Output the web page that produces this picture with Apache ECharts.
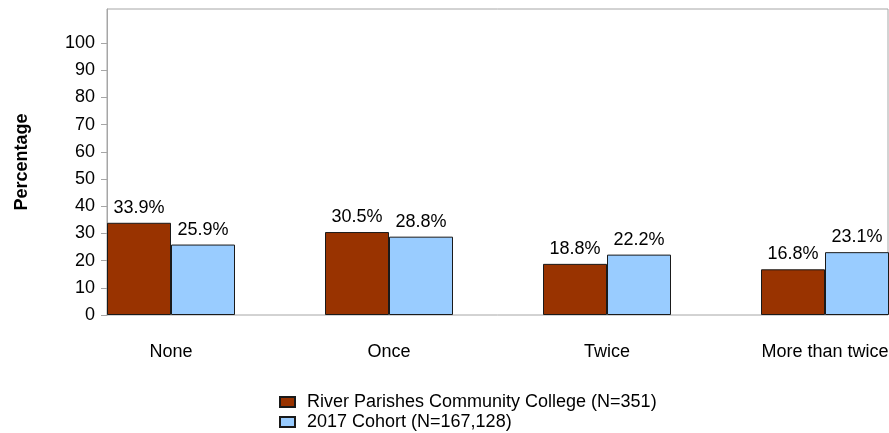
<!DOCTYPE html>
<html>
<head>
<meta charset="utf-8">
<script src="https://cdn.jsdelivr.net/npm/echarts@6/dist/echarts.min.js"></script>
<style>html,body{margin:0;padding:0;background:#fff}#c{width:889px;height:433px}</style>
</head>
<body>
<div id="c"></div>
<script>
const categories = ['None', 'Once', 'Twice', 'More than twice'];
const collegeName = 'River Parishes Community College (N=351)';
const cohortName = '2017 Cohort (N=167,128)';
const collegeValues = [33.9, 30.5, 18.8, 16.8];
const cohortValues = [25.9, 28.8, 22.2, 23.1];
const yTicks = [0, 10, 20, 30, 40, 50, 60, 70, 80, 90, 100];

const FONT = '"Liberation Sans", Arial, sans-serif';
const FS = 18;
const chart = echarts.init(document.getElementById('c'), null, {renderer: 'canvas'});

const labelCfg = {
  show: true, position: 'top', distance: 6,
  formatter: p => p.value.toFixed(1) + '%',
  color: '#000', fontFamily: FONT, fontSize: FS
};

chart.setOption({
  animation: false,
  backgroundColor: '#fff',
  textStyle: {fontFamily: FONT},
  grid: [
    {left: 107, right: 1, top: 9, bottom: 118, show: true, borderColor: '#a6a6a6', borderWidth: 1,
      backgroundColor: 'transparent', outerBoundsMode: 'none', containLabel: false},
    {left: 62, width: 872, top: 9, bottom: 118, outerBoundsMode: 'none', containLabel: false}
  ],
  xAxis: [
    {gridIndex: 0, type: 'value', min: 0, max: 1, show: false},
    {gridIndex: 1, type: 'category', data: categories,
      axisLine: {show: false}, axisTick: {show: false},
      axisLabel: {color: '#000', fontFamily: FONT, fontSize: FS, margin: 28}}
  ],
  yAxis: [
    {gridIndex: 0, type: 'value', min: 0, max: 112.5, interval: 10,
      name: 'Percentage', nameLocation: 'middle', nameGap: 76, nameRotate: 90,
      nameTextStyle: {color: '#000', fontFamily: FONT, fontSize: FS, fontWeight: 'bold'},
      axisLine: {show: true, lineStyle: {color: '#a6a6a6'}},
      axisTick: {show: true, length: 6, lineStyle: {color: '#a6a6a6'}, customValues: yTicks},
      axisLabel: {color: '#000', fontFamily: FONT, fontSize: FS, margin: 12, customValues: yTicks,
        formatter: v => (v <= 100 ? String(v) : '')},
      splitLine: {show: false}},
    {gridIndex: 1, type: 'value', min: 0, max: 112.5, show: false, splitLine: {show: false}}
  ],
  legend: {
    orient: 'vertical', left: 279, top: 393, height: 40, padding: 0,
    itemWidth: 15, itemHeight: 10, itemGap: 2, icon: 'rect',
    textStyle: {color: '#000', fontFamily: FONT, fontSize: FS, lineHeight: 18, padding: [0, 0, 0, 7]},
    data: [collegeName, cohortName]
  },
  series: [
    {name: collegeName, type: 'bar', xAxisIndex: 1, yAxisIndex: 1, data: collegeValues,
      barWidth: 64, barGap: '0%',
      itemStyle: {color: '#993300', borderColor: '#1a1a1a', borderWidth: 1},
      label: labelCfg},
    {name: cohortName, type: 'bar', xAxisIndex: 1, yAxisIndex: 1, data: cohortValues,
      barWidth: 64, barGap: '0%',
      itemStyle: {color: '#99ccff', borderColor: '#1a1a1a', borderWidth: 1},
      label: labelCfg}
  ]
});
</script>
</body>
</html>
